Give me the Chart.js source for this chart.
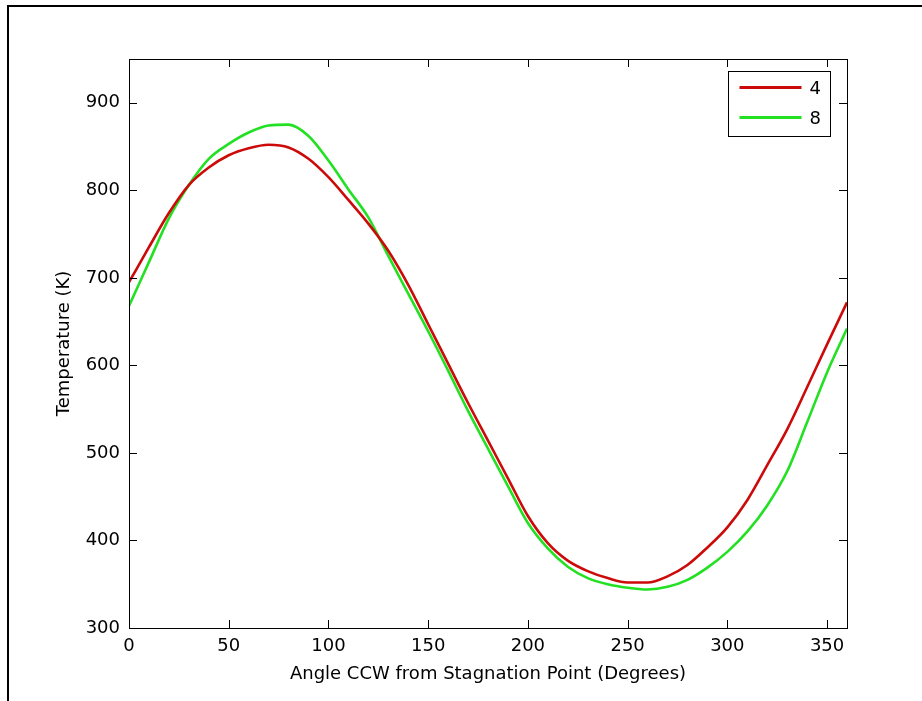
<!DOCTYPE html>
<html>
<head>
<meta charset="utf-8">
<script src="https://cdn.jsdelivr.net/npm/chart.js@4/dist/chart.umd.min.js"></script>
<style>
  html, body { margin: 0; padding: 0; background: #ffffff; }
  #wrap { width: 922px; height: 701px; position: relative; }
</style>
</head>
<body>
<div id="wrap"><canvas id="c" width="922" height="701"></canvas></div>
<script>
// ---- data ----
const angles = [0,10,20,30,40,50,60,70,80,90,100,110,120,130,140,150,160,170,180,190,200,210,220,230,240,250,260,270,280,290,300,310,320,330,340,350,360];
const series4 = [695,735,774,806,826,840,848,852,849,836,815,789,762,731,692,647,602,557,514,471,428,397,377,365,357,352,352,359,372,392,415,446,486,527,575,624,672];
const series8 = [668,718,768,806,836,853,866,874,875,862,834,801,769,725,682,639,594,548,505,462,420,391,370,357,350,346,344,347,355,369,387,410,440,479,535,592,642];
const seriesLabels = ['4', '8'];
const xTicks = [0,50,100,150,200,250,300,350];
const yTicks = [300,400,500,600,700,800,900];
const xTitle = 'Angle CCW from Stagnation Point (Degrees)';
const yTitle = 'Temperature (K)';

const FONT = { family: '"DejaVu Sans", sans-serif', size: 18 };

const framePlugin = {
  id: 'framePlugin',
  beforeDraw(chart) {
    const ctx = chart.ctx;
    ctx.save();
    ctx.fillStyle = '#ffffff';
    ctx.fillRect(0, 0, chart.width, chart.height);
    ctx.fillStyle = '#000000';
    ctx.fillRect(7, 5, chart.width - 7, 2);
    ctx.fillRect(7, 5, 2, chart.height - 5);
    ctx.restore();
  },
  afterDatasetsDraw(chart) {
    const ctx = chart.ctx;
    const a = chart.chartArea;
    const xs = chart.scales.x, ys = chart.scales.y;
    const tl = 8;
    ctx.save();
    ctx.strokeStyle = '#000000';
    ctx.lineWidth = 1;
    ctx.beginPath();
    xTicks.forEach(v => {
      const px = Math.round(xs.getPixelForValue(v)) + 0.5;
      ctx.moveTo(px, a.bottom); ctx.lineTo(px, a.bottom - tl);
      ctx.moveTo(px, a.top); ctx.lineTo(px, a.top + tl);
    });
    yTicks.forEach(v => {
      const py = Math.round(ys.getPixelForValue(v)) + 0.5;
      ctx.moveTo(a.left, py); ctx.lineTo(a.left + tl, py);
      ctx.moveTo(a.right, py); ctx.lineTo(a.right - tl, py);
    });
    ctx.stroke();
    ctx.strokeRect(Math.round(a.left) + 0.5, Math.round(a.top) + 0.5,
                   Math.round(a.right - a.left), Math.round(a.bottom - a.top));

    // legend box
    const bw = 102, bh = 65;
    const bx = Math.round(a.right) - 17 - bw + 0.5;
    const by = Math.round(a.top) + 12 + 0.5;
    ctx.fillStyle = '#ffffff';
    ctx.fillRect(bx, by, bw, bh);
    ctx.strokeRect(bx, by, bw, bh);
    ctx.font = FONT.size + 'px ' + FONT.family;
    ctx.textAlign = 'left';
    ctx.textBaseline = 'middle';
    chart.data.datasets.forEach((ds, i) => {
      const ly = by + 16 + i * 30;
      ctx.strokeStyle = ds.borderColor;
      ctx.lineWidth = 3;
      ctx.beginPath();
      ctx.moveTo(bx + 11, ly);
      ctx.lineTo(bx + 73, ly);
      ctx.stroke();
      ctx.fillStyle = '#000000';
      ctx.fillText(ds.label, bx + 81, ly + 2);
    });
    ctx.restore();
  }
};

new Chart(document.getElementById('c'), {
  type: 'line',
  data: {
    datasets: [
      { label: seriesLabels[0], data: angles.map((a, i) => ({ x: a, y: series4[i] })),
        borderColor: '#cc0a0a', borderWidth: 2.6, pointRadius: 0, cubicInterpolationMode: 'monotone', fill: false },
      { label: seriesLabels[1], data: angles.map((a, i) => ({ x: a, y: series8[i] })),
        borderColor: '#22e022', borderWidth: 2.6, pointRadius: 0, cubicInterpolationMode: 'monotone', fill: false }
    ]
  },
  options: {
    responsive: false,
    animation: false,
    devicePixelRatio: 1,
    layout: { padding: { top: 59, right: 75, bottom: 0, left: 0 } },
    plugins: { legend: { display: false }, tooltip: { enabled: false } },
    scales: {
      x: {
        type: 'linear', min: 0, max: 360,
        afterFit(s) { s.height = 73; },
        afterBuildTicks(s) { s.ticks = xTicks.map(v => ({ value: v })); },
        ticks: { color: '#000', font: FONT, padding: 8, maxRotation: 0, autoSkip: false },
        grid: { display: false, drawTicks: false },
        border: { display: false },
        title: { display: true, text: xTitle, color: '#000', font: FONT, padding: { top: 0, bottom: 16 } }
      },
      y: {
        type: 'linear', min: 300, max: 950,
        afterFit(s) { s.width = 129; },
        afterBuildTicks(s) { s.ticks = yTicks.map(v => ({ value: v })); },
        ticks: { color: '#000', font: FONT, padding: 9, autoSkip: false },
        grid: { display: false, drawTicks: false },
        border: { display: false },
        title: { display: true, text: yTitle, color: '#000', font: FONT, padding: { top: 54, bottom: 0 } }
      }
    }
  },
  plugins: [framePlugin]
});
</script>
</body>
</html>
